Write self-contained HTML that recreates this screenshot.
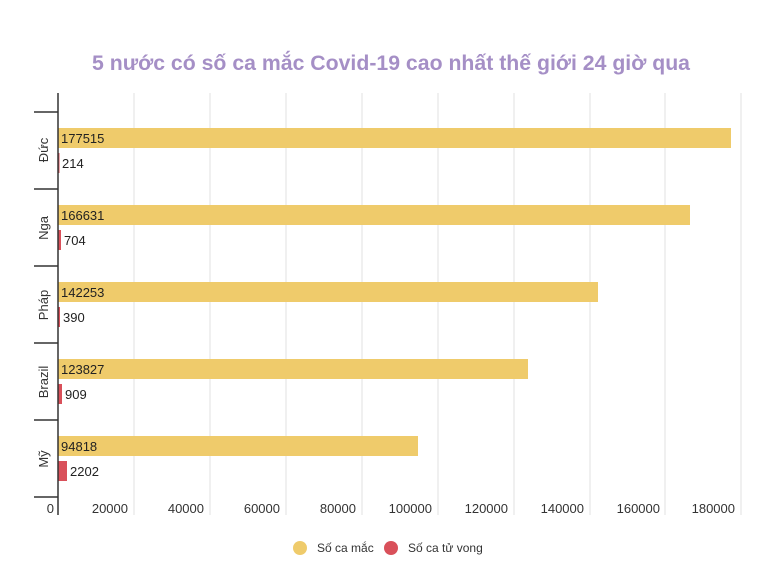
<!DOCTYPE html>
<html><head><meta charset="utf-8"><style>
body{margin:0;background:#fff;}
svg{display:block;font-family:"Liberation Sans",sans-serif;}
</style></head><body>
<svg width="770" height="572" viewBox="0 0 770 572">
<text x="92" y="70" font-size="21" font-weight="bold" fill="#a58fc6" textLength="598" lengthAdjust="spacingAndGlyphs">5 nước có số ca mắc Covid-19 cao nhất thế giới 24 giờ qua</text>
<g stroke="#e0e0e0" stroke-width="1">
<line x1="134" y1="93" x2="134" y2="515"/><line x1="210" y1="93" x2="210" y2="515"/>
<line x1="286" y1="93" x2="286" y2="515"/><line x1="362" y1="93" x2="362" y2="515"/>
<line x1="438" y1="93" x2="438" y2="515"/><line x1="514" y1="93" x2="514" y2="515"/>
<line x1="590" y1="93" x2="590" y2="515"/><line x1="665" y1="93" x2="665" y2="515"/>
<line x1="741" y1="93" x2="741" y2="515"/>
</g>
<g fill="#efcb6b">
<rect x="58" y="128" width="673" height="20"/>
<rect x="58" y="205" width="632" height="20"/>
<rect x="58" y="282" width="540" height="20"/>
<rect x="58" y="359" width="470" height="20"/>
<rect x="58" y="436" width="360" height="20"/>
</g>
<g fill="#d9505a">
<rect x="58" y="153" width="1.5" height="20"/>
<rect x="58" y="230" width="3" height="20"/>
<rect x="58" y="307" width="2" height="20"/>
<rect x="58" y="384" width="4" height="20"/>
<rect x="58" y="461" width="9" height="20"/>
</g>
<g stroke="#333" stroke-width="1.5">
<line x1="58" y1="93" x2="58" y2="515"/>
<line x1="34" y1="112" x2="58" y2="112"/><line x1="34" y1="189" x2="58" y2="189"/>
<line x1="34" y1="266" x2="58" y2="266"/><line x1="34" y1="343" x2="58" y2="343"/>
<line x1="34" y1="420" x2="58" y2="420"/><line x1="34" y1="497" x2="58" y2="497"/>
</g>
<g font-size="13" fill="#222">
<text x="61" y="143">177515</text><text x="62" y="168">214</text>
<text x="61" y="220">166631</text><text x="64" y="245">704</text>
<text x="61" y="297">142253</text><text x="63" y="322">390</text>
<text x="61" y="374">123827</text><text x="65" y="399">909</text>
<text x="61" y="451">94818</text><text x="70" y="476">2202</text>
</g>
<g font-size="13" fill="#333" text-anchor="middle">
<text transform="translate(48,150) rotate(-90)">Đức</text>
<text transform="translate(48,228) rotate(-90)">Nga</text>
<text transform="translate(48,305) rotate(-90)">Pháp</text>
<text transform="translate(48,382) rotate(-90)">Brazil</text>
<text transform="translate(48,459) rotate(-90)">Mỹ</text>
</g>
<g font-size="13" fill="#333" text-anchor="end">
<text x="54" y="513">0</text><text x="128" y="513">20000</text><text x="204" y="513">40000</text>
<text x="280" y="513">60000</text><text x="356" y="513">80000</text><text x="432" y="513">100000</text>
<text x="508" y="513">120000</text><text x="584" y="513">140000</text><text x="660" y="513">160000</text>
<text x="735" y="513">180000</text>
</g>
<circle cx="300" cy="548" r="7" fill="#efcb6b"/>
<text x="317" y="552" font-size="12" fill="#333">Số ca mắc</text>
<circle cx="391" cy="548" r="7" fill="#d9505a"/>
<text x="408" y="552" font-size="12" fill="#333">Số ca tử vong</text>
</svg>
</body></html>
